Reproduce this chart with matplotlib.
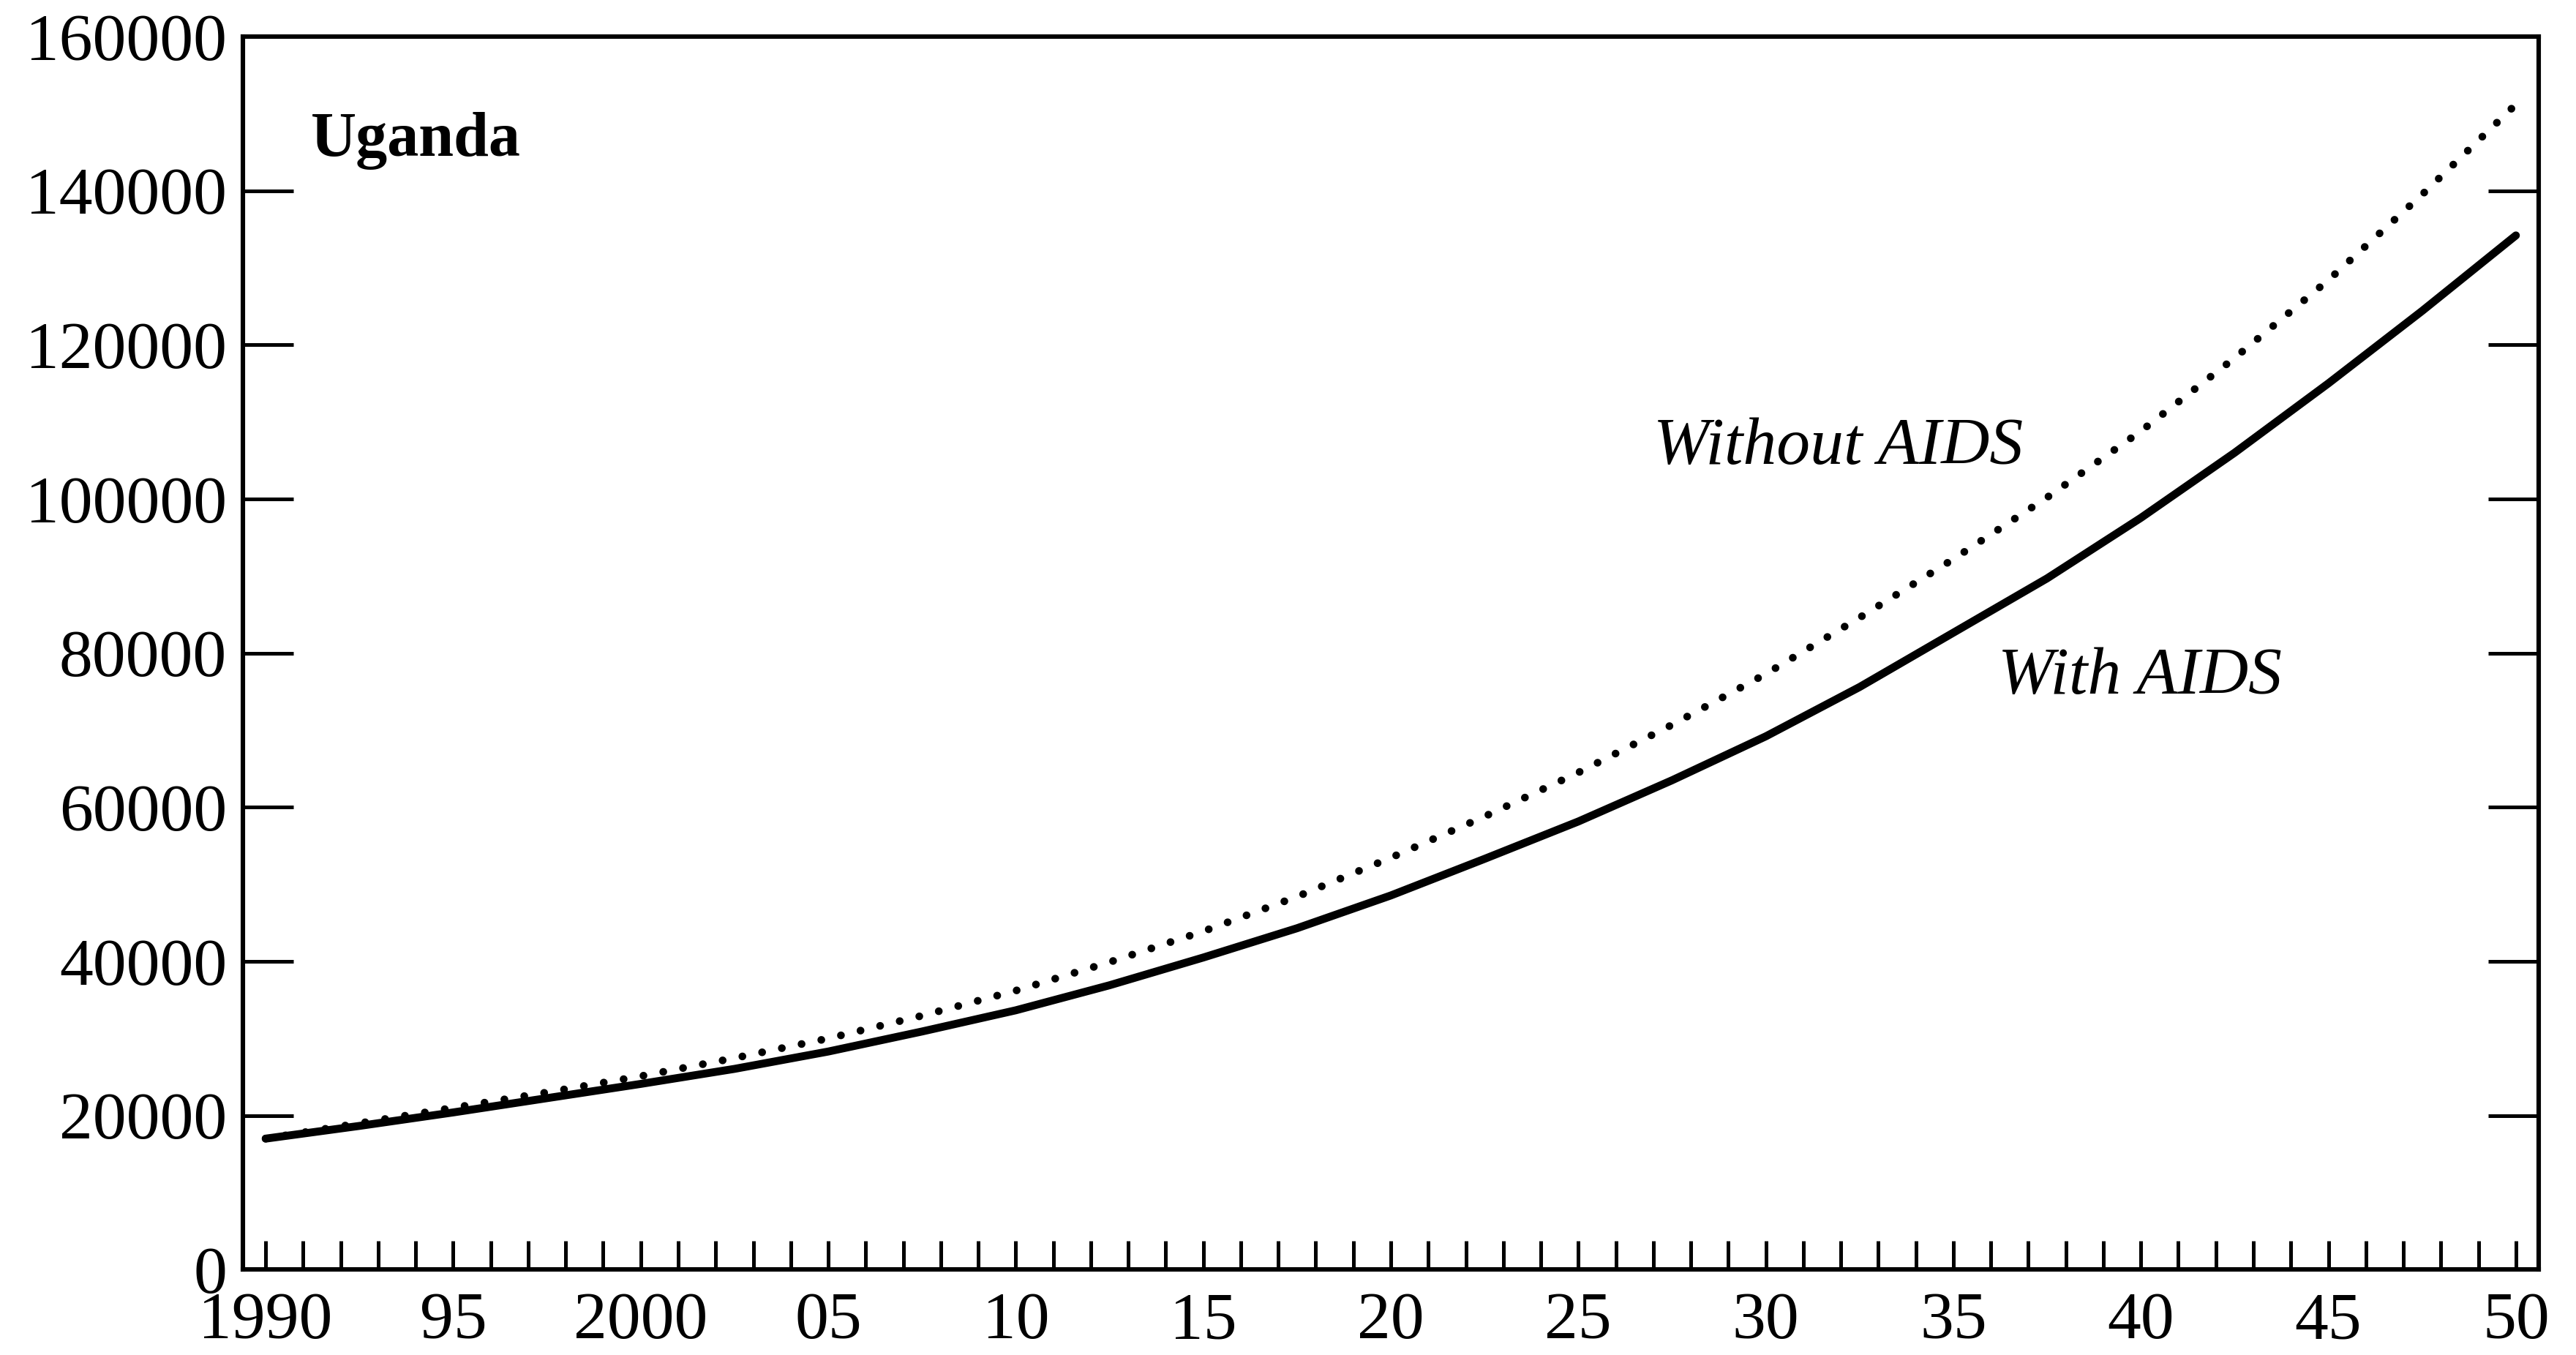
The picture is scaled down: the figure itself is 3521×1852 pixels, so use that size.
import matplotlib
matplotlib.use("Agg")
import matplotlib.pyplot as plt
from matplotlib.ticker import MultipleLocator, FixedLocator

years = [1990, 1992.5, 1995, 1997.5, 2000, 2002.5, 2005, 2007.5, 2010, 2012.5, 2015, 2017.5,
         2020, 2022.5, 2025, 2027.5, 2030, 2032.5, 2035, 2037.5, 2040, 2042.5, 2045, 2047.5, 2050]
with_aids = [17000, 18650, 20400, 22250, 24100, 26050, 28300, 30900, 33650, 36900, 40500, 44300,
             48550, 53300, 58150, 63500, 69200, 75600, 82650, 89700, 97550, 106000, 115000, 124400, 134200]
without_aids = [17000, 19000, 21000, 23000, 25100, 27450, 30000, 32950, 36200, 39900, 43900, 48400,
                53450, 58800, 64500, 70700, 77300, 84600, 92200, 100200, 108800, 118300, 128400, 139500, 151200]
xtick_pos = [1990, 1995, 2000, 2005, 2010, 2015, 2020, 2025, 2030, 2035, 2040, 2045, 2050]
xtick_labels = ["1990", "95", "2000", "05", "10", "15", "20", "25", "30", "35", "40", "45", "50"]
ytick_pos = [0, 20000, 40000, 60000, 80000, 100000, 120000, 140000, 160000]

plt.rcParams['font.family'] = ['Liberation Serif', 'DejaVu Serif']

fig = plt.figure(figsize=(17.605, 9.26), dpi=200)
ax = fig.add_axes([0.0944, 0.063, 0.891, 0.910])

ax.plot(years, without_aids, color='black', lw=3.8, linestyle=(0, (0.01, 2.6)),
        dash_capstyle='round')
ax.plot(years, with_aids, color='black', lw=3.9, solid_capstyle='round')

ax.set_xlim(1989.4, 2050.6)
ax.set_ylim(0, 160000)

ax.xaxis.set_major_locator(FixedLocator(xtick_pos))
ax.set_xticklabels(xtick_labels)
ax.xaxis.set_minor_locator(MultipleLocator(1))
ax.yaxis.set_major_locator(FixedLocator(ytick_pos))
ax.set_yticklabels([str(v) for v in ytick_pos])

ax.tick_params(axis='x', which='both', direction='in', length=14, width=1.8,
               top=False, bottom=True, labelsize=33, pad=11)
ax.tick_params(axis='y', which='major', direction='in', length=25, width=1.8,
               left=True, right=True, labelleft=True, labelright=False,
               labelsize=33, pad=8)

for s in ax.spines.values():
    s.set_linewidth(2.2)

ax.text(1991.2, 146500, "Uganda", fontsize=31, fontweight='bold', va='center', ha='left')
ax.text(2027.0, 106700, "Without AIDS", fontsize=33, style='italic', va='center', ha='left')
ax.text(2036.2, 76900, "With AIDS", fontsize=33, style='italic', va='center', ha='left')

fig.savefig("out.png", dpi=200)
